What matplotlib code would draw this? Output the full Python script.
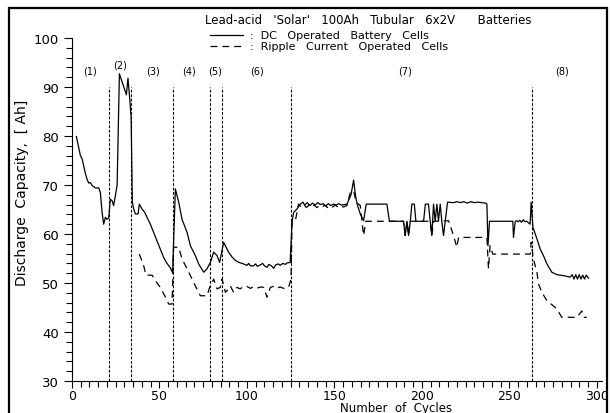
import numpy as np
import matplotlib.pyplot as plt
from matplotlib.lines import Line2D
from matplotlib.patches import Rectangle

# ==== data ===========================================================
# DC operated battery cells (solid)
dc_cycles = [2.5, 4.8, 5.8, 7.7, 8.6, 9.5, 10.5, 11.5, 13.4, 15.3, 16.2, 17.2, 18.1, 19.1, 20, 21,
	21.9, 22.9, 23.8, 24.8, 25.8, 27.1, 31.1, 32, 33, 33.8, 34.5, 35.3, 36.2, 37.8, 38.5, 40,
	41.6, 42.9, 44.8, 46.7, 48.6, 50.5, 52.4, 54.3, 56.2, 57.5, 59.1, 61, 62.9, 65.8, 67.7, 70.5,
	72.4, 75.3, 77.2, 79.1, 81, 82.9, 84.4, 86.7, 89.5, 91.5, 93.4, 95.5, 98.1, 100, 101, 102,
	103.8, 105, 106, 107.7, 109, 110, 111.5, 112.5, 114, 115.3, 116.5, 118, 119, 120.5, 122, 123,
	124.7, 125.8, 126.7, 128.6, 130.5, 132, 133, 134.5, 136, 137.5, 139, 140.5, 142, 143.5, 145, 146.5,
	148, 149.5, 151, 152.5, 154, 155.5, 157.2, 159.5, 161, 162, 163, 164.8, 166.7, 168.2, 180, 181.5,
	189.5, 190.5, 191.5, 192.4, 193.4, 194.3, 195.7, 196.6, 201, 202, 203.8, 204.8, 205.7, 206.7, 207.6, 208.6,
	209.5, 210.5, 211.4, 212.4, 214.7, 218, 220, 222, 224, 226, 228, 230, 232, 234, 236.4, 237.2,
	237.8, 238.7, 252, 252.4, 253.4, 254.3, 255, 256, 257, 258, 259, 260, 261.9, 262.5, 263.5, 265.8,
	267.7, 269.5, 271.5, 274.3, 277.2, 281, 284.8, 286, 287, 288, 289, 290, 291, 292, 293, 294, 295.3]
dc_cap = [79.9, 76.0, 75.3, 72.3, 71.2, 70.4, 70.5, 69.9, 69.4, 69.4, 68.5, 64.4, 62.0, 63.4, 63.0, 63.3,
	67.1, 66.8, 65.8, 67.8, 70.0, 92.7, 88.4, 91.8, 87.6, 83.8, 66.5, 65.1, 64.1, 64.1, 66.1, 65.1,
	64.4, 63.4, 62.0, 60.3, 58.6, 56.9, 55.2, 54.0, 53.1, 52.1, 69.2, 66.5, 63.0, 60.3, 57.6, 55.6,
	53.9, 52.2, 52.9, 54.2, 56.3, 55.6, 54.2, 58.3, 56.3, 55.3, 54.6, 54.2, 53.9, 53.6, 54.0, 53.5,
	53.5, 53.9, 53.4, 53.7, 54.0, 53.5, 53.2, 53.8, 53.5, 53.0, 53.7, 53.9, 53.6, 54.0, 53.8, 54.1,
	54.2, 62.4, 64.4, 65.1, 66.1, 66.5, 65.9, 66.4, 65.8, 66.3, 65.9, 66.4, 66.0, 66.2, 65.7, 66.2,
	65.8, 66.1, 65.9, 66.2, 65.9, 66.0, 66.1, 68.0, 71.0, 68.0, 66.1, 64.1, 62.7, 66.1, 66.1, 62.6,
	62.6, 59.7, 62.6, 59.7, 62.6, 66.1, 66.1, 62.6, 62.6, 66.1, 66.1, 62.6, 59.7, 66.1, 62.6, 66.1,
	62.6, 66.1, 62.6, 59.7, 66.5, 66.4, 66.6, 66.4, 66.6, 66.3, 66.6, 66.4, 66.5, 66.4, 66.3, 66.1,
	57.6, 62.6, 62.6, 59.3, 62.6, 62.7, 62.5, 62.8, 62.4, 62.9, 62.5, 62.6, 62.0, 66.5, 61.4, 59.0,
	56.9, 55.6, 53.9, 52.2, 51.7, 51.5, 51.2, 51.7, 50.8, 51.7, 50.8, 51.7, 50.8, 51.6, 50.8, 51.6, 51.0]

# Ripple current operated cells (dashed)
rc_cycles = [38.5, 41, 42.3, 45.8, 48, 50.5, 53, 55.3, 57.2, 58.1, 61, 62.9, 65.8, 67.7, 70.5, 73.4,
	77.2, 78.7, 81, 82.9, 84.8, 85.8, 87.7, 89.5, 90.5, 92.4, 94.3, 96.2, 98, 100, 102, 104,
	106, 108, 109.5, 111.5, 113.4, 115, 117, 119, 121, 123.8, 125.2, 125.8, 127.7, 129.5, 131, 132.5,
	134, 135.5, 137, 138.5, 140, 141.5, 143, 144.5, 146, 147.5, 149, 150.5, 152, 153.5, 155, 157.2,
	159.1, 161, 162.5, 164.8, 166.7, 168, 189.5, 190.5, 191.5, 192.4, 193.4, 204.8, 205.7, 206.7, 215.3, 218.1,
	220, 221, 237.2, 238.1, 239, 240.6, 262, 262.5, 263.8, 265.8, 266.7, 268.6, 271.5, 275.3, 277.2, 280,
	288.6, 291.5, 292.8, 294.3]
rc_cap = [55.9, 53.5, 51.6, 51.6, 50.3, 49.1, 47.4, 45.7, 45.7, 57.3, 57.3, 54.9, 52.9, 51.5, 49.4, 47.4,
	47.4, 49.1, 50.8, 48.8, 49.1, 50.8, 48.1, 48.8, 49.4, 48.1, 49.1, 48.8, 49.3, 49.3, 48.9, 49.3,
	49.0, 49.2, 49.1, 47.1, 49.1, 49.3, 48.9, 49.2, 48.9, 49.1, 50.8, 62.7, 62.7, 66.1, 65.5, 66.0,
	65.4, 65.9, 65.5, 65.9, 65.4, 65.8, 65.5, 65.9, 65.4, 65.8, 65.5, 65.9, 65.5, 65.8, 65.5, 65.8,
	68.5, 68.8, 66.5, 65.8, 59.7, 62.6, 62.6, 59.7, 62.6, 59.7, 62.6, 62.6, 59.7, 62.6, 62.7, 59.7,
	57.3, 59.3, 59.3, 52.9, 57.6, 55.9, 55.9, 58.3, 54.9, 52.2, 49.8, 48.1, 46.4, 45.3, 44.7, 43.0,
	43.0, 44.3, 43.0, 43.0]

# boundaries of the test periods and their labels
period_bounds = [21, 34, 58, 79, 86, 125, 263]
period_labels = ["(1)", "(2)", "(3)", "(4)", "(5)", "(6)", "(7)", "(8)"]
label_x = [10.5, 27.5, 46.5, 67, 82, 106, 190.5, 280]
label_y = [93.3, 94.5, 93.3, 93.3, 93.3, 93.3, 93.3, 93.3]

# ==== figure ==========================================================
W, H = 610.0, 414.0
fig = plt.figure(figsize=(6.1, 4.14), dpi=100)
ax = fig.add_axes([72/W, 1-382/H, 530/W, 343/H])

ax.plot(dc_cycles, dc_cap, color='black', lw=0.9)
ax.plot(rc_cycles, rc_cap, color='black', lw=0.9, linestyle=(0, (5.5, 4)))
ax.vlines(period_bounds, 30, 90, color='black', lw=0.8, linestyles=(0, (2.5, 1.5)))
for s, x, y in zip(period_labels, label_x, label_y):
	ax.text(x, y, s, ha='center', va='center', fontsize=7)

ax.set_xlim(0, 303)
ax.set_ylim(30, 100)
ax.set_xticks(np.arange(0, 301, 50))
ax.set_xticks(np.arange(0, 301, 5), minor=True)
ax.set_yticks(np.arange(30, 101, 10))
ax.set_yticks(np.arange(30, 101, 2), minor=True)
ax.tick_params(which='both', direction='out', width=0.8, labelsize=9.5)
ax.tick_params(which='major', length=6)
ax.tick_params(which='minor', length=4)
ax.tick_params(axis='x', which='major', length=5, pad=1, labelsize=9)
ax.spines['top'].set_visible(False)
ax.spines['right'].set_visible(False)

# axis titles placed by hand (they sit off centre in the original)
fig.text(396/W, 1-412.5/H, "Number  of  Cycles", fontsize=8.5, ha='center', va='baseline')
fig.text(22/W, 1-193/H, "Discharge  Capacity,  [ Ah]", fontsize=10, ha='center', va='center', rotation=90)

# title and hand made legend (figure coords)
fig.text(205/W, 1-20/H, "Lead-acid   'Solar'   100Ah   Tubular   6x2V      Batteries", fontsize=8.5, va='center')
fig.add_artist(Line2D([210/W, 243/W], [1-36/H, 1-36/H], color='black', lw=0.9))
fig.add_artist(Line2D([210/W, 243/W], [1-47/H, 1-47/H], color='black', lw=0.9, linestyle=(0, (5.5, 4))))
fig.text(250/W, 1-36/H, ":  DC   Operated   Battery   Cells", fontsize=8, va='center')
fig.text(250/W, 1-47/H, ":  Ripple   Current   Operated   Cells", fontsize=8, va='center')

# frame round the whole picture
fig.add_artist(Rectangle((9/W, -0.05), 598/W, 1.05-9/H, transform=fig.transFigure,
	fill=False, edgecolor='black', lw=1.6))

fig.savefig("out.png", dpi=100)
